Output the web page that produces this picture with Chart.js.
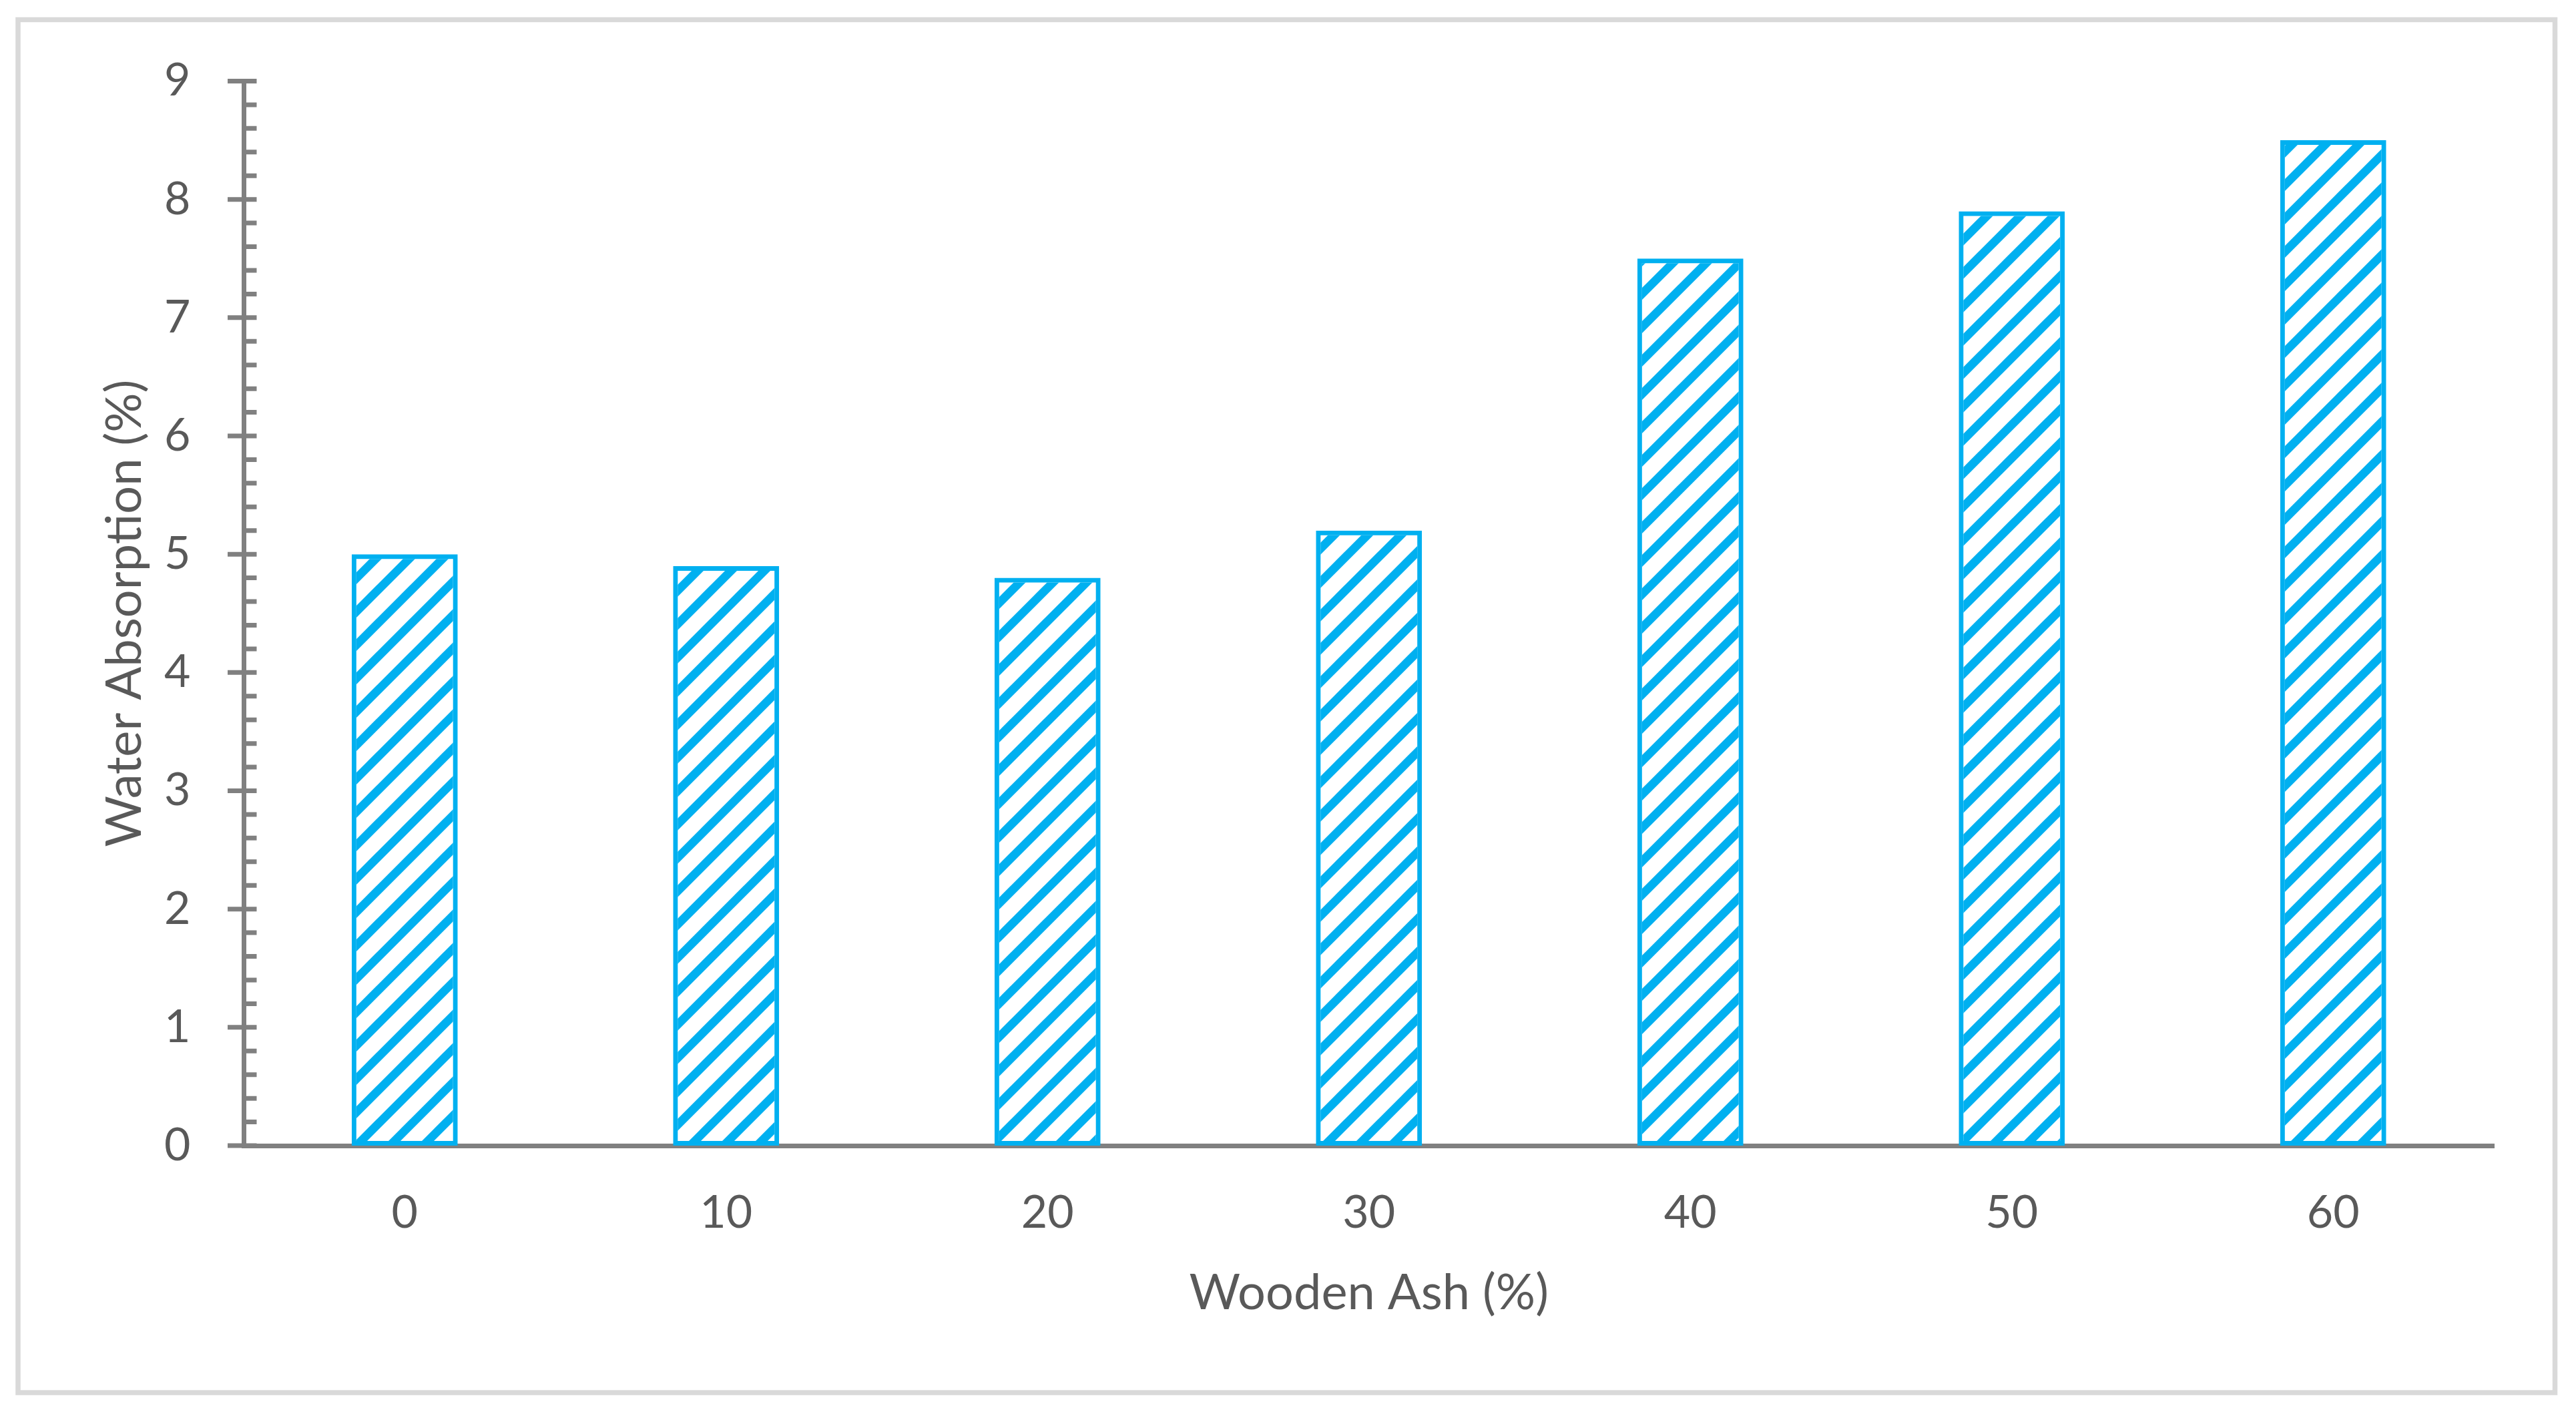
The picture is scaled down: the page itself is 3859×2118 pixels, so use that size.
<!DOCTYPE html>
<html>
<head>
<meta charset="utf-8">
<title>Water Absorption vs Wooden Ash</title>
<script src="https://cdn.jsdelivr.net/npm/chart.js@4.4.1/dist/chart.umd.min.js"></script>
<style>
  html, body { margin: 0; padding: 0; background: #fff; }
  #wrap { width: 3859px; height: 2118px; position: relative; }
</style>
</head>
<body>
<div id="wrap"><canvas id="chart"></canvas></div>
<script>
/* ---------------- Data ---------------- */
const categories = ['0', '10', '20', '30', '40', '50', '60'];
const waterAbsorption = [5.0, 4.9, 4.8, 5.2, 7.5, 7.9, 8.5];
const xTitle = 'Wooden Ash (%)';
const yTitle = 'Water Absorption (%)';
const yMin = 0;
const yMax = 9;
const yStep = 1;
const yMinorStep = 0.2;

/* ---------------- Styles ---------------- */
const blue = '#00B0F0';
const axisGray = '#808080';
const textGray = '#595959';
const fontFamily = 'Lato, "Open Sans", sans-serif';

// Wide upward diagonal hatch, like the Excel pattern fill
function hatchPattern(color) {
  const tile = document.createElement('canvas');
  tile.width = 50;
  tile.height = 50;
  const g = tile.getContext('2d');
  g.strokeStyle = color;
  g.lineWidth = 12.7;
  g.beginPath();
  g.moveTo(-10, 60); g.lineTo(60, -10);
  g.moveTo(-10, 10); g.lineTo(10, -10);
  g.moveTo(40, 60); g.lineTo(60, 40);
  g.stroke();
  return g.createPattern(tile, 'repeat');
}

// Outer frame + Excel-style tick marks on the value axis
const framePlugin = {
  id: 'frame',
  beforeDraw(chart) {
    const ctx = chart.ctx;
    ctx.save();
    ctx.fillStyle = '#fff';
    ctx.fillRect(0, 0, chart.width, chart.height);
    ctx.strokeStyle = '#D9D9D9';
    ctx.lineWidth = 7.5;
    ctx.strokeRect(27, 29.5, 3800.5, 2056.5);
    ctx.restore();
  },
  afterDraw(chart) {
    const ctx = chart.ctx;
    const yScale = chart.scales.y;
    const x0 = chart.chartArea.left;
    const n = Math.round((yMax - yMin) / yMinorStep);
    const perMajor = Math.round(yStep / yMinorStep);
    ctx.save();
    ctx.strokeStyle = axisGray;
    ctx.lineWidth = 7;
    ctx.beginPath();
    for (let i = 0; i <= n; i++) {
      const p = yScale.getPixelForValue(yMin + i * yMinorStep);
      const major = i % perMajor === 0;
      ctx.moveTo(major ? x0 - 24.5 : x0, p);
      ctx.lineTo(x0 + 19, p);
    }
    ctx.stroke();
    ctx.restore();
  }
};

const ctx = document.getElementById('chart').getContext('2d');
const chart = new Chart(ctx, {
  type: 'bar',
  data: {
    labels: categories,
    datasets: [{
      label: yTitle,
      data: waterAbsorption,
      backgroundColor: hatchPattern(blue),
      borderColor: blue,
      borderWidth: 7,
      borderSkipped: false,
      barPercentage: 0.33,
      categoryPercentage: 1.0
    }]
  },
  options: {
    responsive: true,
    maintainAspectRatio: false,
    animation: false,
    devicePixelRatio: 1,
    layout: { padding: { left: 0, top: 121.5, right: 123, bottom: 0 } },
    plugins: {
      legend: { display: false },
      tooltip: { enabled: false }
    },
    scales: {
      x: {
        grid: { display: false },
        border: { display: true, color: axisGray, width: 7 },
        ticks: {
          color: textGray,
          font: { family: fontFamily, size: 68 },
          padding: 52
        },
        title: {
          display: true,
          text: xTitle,
          color: textGray,
          font: { family: fontFamily, size: 74 },
          padding: { top: 0, bottom: 136 }
        },
        afterFit(scale) { scale.height = 402; }
      },
      y: {
        min: yMin,
        max: yMax,
        grid: { display: false },
        border: { display: true, color: axisGray, width: 7 },
        ticks: {
          stepSize: yStep,
          color: textGray,
          font: { family: fontFamily, size: 68 },
          padding: 72
        },
        title: {
          display: true,
          text: yTitle,
          color: textGray,
          font: { family: fontFamily, size: 74 },
          padding: { top: 143, bottom: 0 }
        },
        afterFit(scale) { scale.width = 365.5; }
      }
    }
  },
  plugins: [framePlugin]
});
</script>
</body>
</html>
